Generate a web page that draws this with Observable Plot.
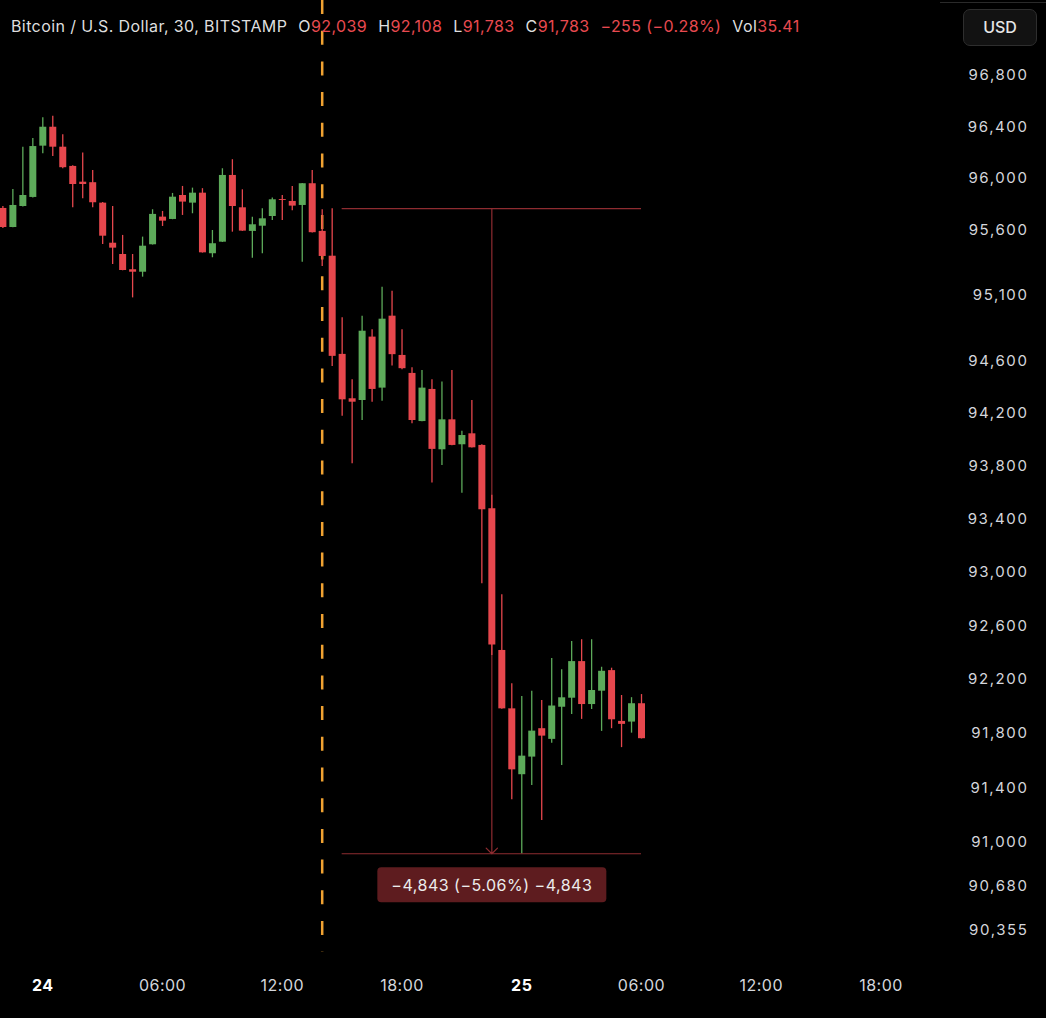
<!DOCTYPE html>
<html><head><meta charset="utf-8">
<script src="https://cdn.jsdelivr.net/npm/d3@7"></script>
<script src="https://cdn.jsdelivr.net/npm/@observablehq/plot@0.6"></script>
<style>
html,body{margin:0;padding:0;background:#000;}
#wrap{position:relative;width:1046px;height:1018px;overflow:hidden;background:#000;font-family:Inter,"Noto Sans",sans-serif;}
#chart svg{display:block;}
#hdr{position:absolute;left:11px;top:16px;font-size:16px;letter-spacing:0.4px;line-height:20px;color:#dedede;white-space:nowrap;}
#hdr .v{color:#E84A50;}
#hdr .k{margin-left:11px;}
#topline{position:absolute;left:940px;top:2px;width:106px;height:1px;background:#2a2a2a;}
#usd{position:absolute;left:963px;top:9px;width:72px;height:35px;border:1px solid #2e2e2e;border-radius:7px;background:#121212;color:#e6e6e6;font-size:16px;font-weight:500;line-height:35px;text-align:center;}
.ylab text{letter-spacing:1.6px;}
.xlab text{letter-spacing:0.5px;}
.mlabel text{letter-spacing:0.5px;}
</style></head>
<body><div id="wrap"><div id="chart"></div>
<div id="hdr"><span>Bitcoin / U.S. Dollar, 30, BITSTAMP</span><span class="k">O</span><span class="v">92,039</span><span class="k">H</span><span class="v">92,108</span><span class="k">L</span><span class="v">91,783</span><span class="k">C</span><span class="v">91,783</span><span class="k v">−255 (−0.28%)</span><span class="k">Vol</span><span class="v">35.41</span></div>
<div id="topline"></div><div id="usd">USD</div>
</div>
<script>
// ---- data (30-minute candles, BITSTAMP BTC/USD) ----
const times = [
 "2025-02-23 22:00","2025-02-23 22:30","2025-02-23 23:00","2025-02-23 23:30",
 "2025-02-24 00:00","2025-02-24 00:30","2025-02-24 01:00","2025-02-24 01:30","2025-02-24 02:00","2025-02-24 02:30",
 "2025-02-24 03:00","2025-02-24 03:30","2025-02-24 04:00","2025-02-24 04:30","2025-02-24 05:00","2025-02-24 05:30",
 "2025-02-24 06:00","2025-02-24 06:30","2025-02-24 07:00","2025-02-24 07:30","2025-02-24 08:00","2025-02-24 08:30",
 "2025-02-24 09:00","2025-02-24 09:30","2025-02-24 10:00","2025-02-24 10:30","2025-02-24 11:00","2025-02-24 11:30",
 "2025-02-24 12:00","2025-02-24 12:30","2025-02-24 13:00","2025-02-24 13:30","2025-02-24 14:00","2025-02-24 14:30",
 "2025-02-24 15:00","2025-02-24 15:30","2025-02-24 16:00","2025-02-24 16:30","2025-02-24 17:00","2025-02-24 17:30",
 "2025-02-24 18:00","2025-02-24 18:30","2025-02-24 19:00","2025-02-24 19:30","2025-02-24 20:00","2025-02-24 20:30",
 "2025-02-24 21:00","2025-02-24 21:30","2025-02-24 22:00","2025-02-24 22:30","2025-02-24 23:00","2025-02-24 23:30",
 "2025-02-25 00:00","2025-02-25 00:30","2025-02-25 01:00","2025-02-25 01:30","2025-02-25 02:00","2025-02-25 02:30",
 "2025-02-25 03:00","2025-02-25 03:30","2025-02-25 04:00","2025-02-25 04:30","2025-02-25 05:00","2025-02-25 05:30",
 "2025-02-25 06:00"
];
const open = [
 95769,95622,95784,95854,
 96251,96398,96243,96094,95972,95968,95810,95501,95414,95297,95278,95489,
 95702,95684,95869,95810,95887,95420,95509,96024,95774,95592,95632,95707,
 95838,95823,95792,95960,95592,95401,94649,94311,94298,94781,94392,94941,
 94641,94504,94138,94382,93924,94151,93962,94045,93957,93478,92417,91983,
 91496,91626,91836,91757,91995,92062,92334,92015,92114,92267,91890,91885,
 92021
];
const high = [
 95784,95915,96243,96310,
 96471,96483,96339,96100,96197,96063,95815,95784,95561,95414,95548,95759,
 95746,95885,95939,95926,95922,95599,96076,96146,95913,95702,95766,95849,
 95869,95939,95962,96063,95759,95767,94929,94456,94941,94837,95163,95132,
 94837,94547,94527,94456,94438,94527,94065,94298,93962,93580,92832,92169,
 92074,92114,92045,92357,92273,92484,92497,92497,92292,92285,92082,92066,
 92089
];
const low = [
 95615,95620,95780,95850,
 96192,96171,96076,95774,95844,95774,95491,95337,95289,95081,95240,95487,
 95630,95682,95715,95728,95425,95389,95507,95586,95592,95386,95420,95676,
 95676,95751,95355,95580,95322,94557,94179,93818,94146,94285,94292,94560,
 94532,94121,94136,93672,93806,93955,93596,93937,92915,92379,91981,91311,
 90915,91417,91159,91729,91564,91942,91905,91978,91816,91836,91696,91803,
 91760
];
const close = [
 95622,95792,95869,96248,
 96398,96243,96084,95954,95954,95813,95555,95463,95291,95278,95478,95723,
 95671,95856,95818,95887,95427,95497,96024,95784,95594,95643,95689,95836,
 95831,95787,95960,95582,95399,94634,94303,94285,94826,94382,94918,94647,
 94540,94146,94392,93927,94151,93957,94032,93939,93471,92458,91983,91532,
 91633,91818,91781,92004,92065,92334,92015,92119,92262,91902,91868,92021,
 91762
];
const yTicks = [96800,96400,96000,95600,95100,94600,94200,93800,93400,93000,92600,92200,91800,91400,91000,90680,90355];
const xTickTimes = ["2025-02-24 00:00","2025-02-24 06:00","2025-02-24 12:00","2025-02-24 18:00","2025-02-25 00:00","2025-02-25 06:00","2025-02-25 12:00","2025-02-25 18:00"];
const xTickLabels = ["24","06:00","12:00","18:00","25","06:00","12:00","18:00"];
const eventTime = "2025-02-24 14:00";
const measureTop = 95768, measureBottom = 90915;
const measureStart = "2025-02-24 15:00", measureEnd = "2025-02-25 06:00", measureAt = "2025-02-24 22:30";
const measureLabel = "−4,843 (−5.06%) −4,843";

// ---- build ----
const parse = d3.utcParse("%Y-%m-%d %H:%M");
const candles = times.map((t, i) => ({t: parse(t), o: open[i], h: high[i], l: low[i], c: close[i]}));
const xTicks = xTickTimes.map((t, i) => ({t: parse(t), label: xTickLabels[i]}));
const UP = "#5DAA5A", DOWN = "#E6474D";
const col = d => d.c >= d.o ? UP : DOWN;
const fmt = d3.format(",");
const MCOL = "#8E2C31";

const chart = Plot.plot({
  width: 1046, height: 1018,
  marginTop: 0, marginRight: 18, marginBottom: 40, marginLeft: 0,
  style: {background: "#000", color: "#d1d4dc", fontFamily: "Inter, 'Noto Sans', sans-serif", overflow: "visible"},
  x: {type: "utc", domain: [parse("2025-02-24 00:00"), parse("2025-02-25 18:00")], range: [42.3, 880.5], axis: null},
  y: {type: "log", domain: [90355, 96800], range: [929.9, 75.1], axis: null},
  marks: [
    Plot.ruleX([{t: parse(eventTime)}], {x: "t", stroke: "#F0A232", strokeWidth: 2.5, strokeDasharray: "14,16.7", insetBottom: 26}),
    Plot.ruleY([{y: measureTop}, {y: measureBottom}], {y: "y", x1: () => parse(measureStart), x2: () => parse(measureEnd), stroke: MCOL, strokeWidth: 1.2}),
    Plot.arrow([{x: parse(measureAt), y1: measureTop, y2: measureBottom}], {x1: "x", x2: "x", y1: "y1", y2: "y2", stroke: MCOL, strokeWidth: 1.2, headAngle: 90, headLength: 10}),
    Plot.ruleX(candles, {x: "t", y1: "l", y2: "h", stroke: col, strokeWidth: 1.3}),
    Plot.ruleX(candles, {x: "t", y1: "o", y2: "c", stroke: col, strokeWidth: 7}),
    Plot.text([{x: parse(measureAt), y: measureBottom, label: measureLabel}], {x: "x", y: "y", text: "label", dy: 32, fill: "#ececec", fontSize: 16, className: "mlabel"}),
    Plot.text(yTicks, {y: d => d, text: d => fmt(d), frameAnchor: "right", textAnchor: "end", fill: "#d4d6dc", fontSize: 15, className: "ylab"}),
    Plot.text(xTicks.filter(d => !d.label.includes(":")), {x: "t", text: "label", frameAnchor: "bottom", lineAnchor: "top", dy: 1, fill: "#ffffff", fontSize: 16, fontWeight: "bold", className: "xlab"}),
    Plot.text(xTicks.filter(d => d.label.includes(":")), {x: "t", text: "label", frameAnchor: "bottom", lineAnchor: "top", dy: 1, fill: "#d4d6dc", fontSize: 16, className: "xlab"})
  ]
});
document.getElementById("chart").append(chart);

// rounded background box behind the measurement label
const svgns = "http://www.w3.org/2000/svg";
const lg = chart.querySelector("g.mlabel");
if (lg) {
  const t = lg.querySelector("text");
  const tb = t.getBoundingClientRect(), sb = chart.getBoundingClientRect();
  const cx = tb.left - sb.left + tb.width / 2, cy = tb.top - sb.top + tb.height / 2;
  const w = tb.width + 28, h = 35;
  const r = document.createElementNS(svgns, "rect");
  r.setAttribute("x", cx - w / 2);
  r.setAttribute("y", cy - h / 2);
  r.setAttribute("width", w);
  r.setAttribute("height", h);
  r.setAttribute("rx", 4);
  r.setAttribute("fill", "#5E1C1F");
  lg.parentNode.insertBefore(r, lg);
}
</script>
</body></html>
